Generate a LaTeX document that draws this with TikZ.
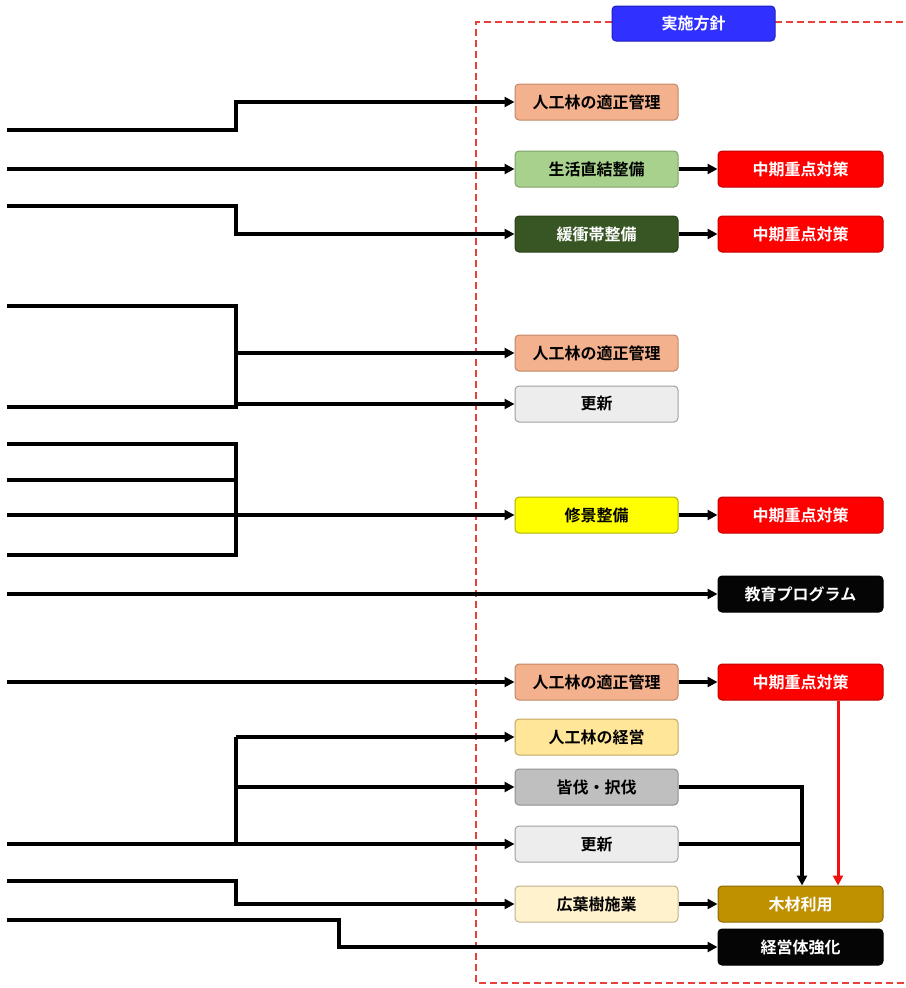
\documentclass[tikz,border=0pt]{standalone}
\usepackage{fontspec}
\newfontfamily\cjk{Noto Sans CJK JP}[BoldFont={Noto Sans CJK JP Bold}]
\usetikzlibrary{arrows.meta}
\definecolor{hdrblue}{HTML}{3030FF}
\definecolor{hdrblueB}{HTML}{2020C0}
\definecolor{salmon}{HTML}{F4B18E}
\definecolor{salmonB}{HTML}{C08868}
\definecolor{lgreen}{HTML}{A9D18E}
\definecolor{lgreenB}{HTML}{80A068}
\definecolor{dgreen}{HTML}{375623}
\definecolor{dgreenB}{HTML}{2A4018}
\definecolor{redbox}{HTML}{FF0000}
\definecolor{redboxB}{HTML}{C00000}
\definecolor{lgray}{HTML}{EDEDED}
\definecolor{lgrayB}{HTML}{A0A0A0}
\definecolor{mgray}{HTML}{BFBFBF}
\definecolor{mgrayB}{HTML}{909090}
\definecolor{ybox}{HTML}{FFFF00}
\definecolor{yboxB}{HTML}{B0B000}
\definecolor{lyellow}{HTML}{FFE699}
\definecolor{lyellowB}{HTML}{C0A860}
\definecolor{cream}{HTML}{FFF2CC}
\definecolor{creamB}{HTML}{C0B090}
\definecolor{gold}{HTML}{BF9000}
\definecolor{goldB}{HTML}{8C6A00}
\definecolor{blackbox}{HTML}{050505}
\definecolor{dashred}{HTML}{E8413C}
\definecolor{arrred}{HTML}{F01010}
\begin{document}
\begin{tikzpicture}[x=1pt,y=-1pt,
  box/.style={draw, line width=1pt, rounded corners=4pt, minimum height=36pt, inner sep=0pt,
     font=\cjk\bfseries\fontsize{16}{16}\selectfont},
  lbox/.style={box, minimum width=163pt},
  rbox/.style={box, minimum width=165pt, text=white},
  conn/.style={line width=3.2pt, black, -{Triangle[length=10pt,width=10pt]}},
  plain/.style={line width=3.2pt, black},
  redconn/.style={line width=3pt, arrred, -{Triangle[length=10pt,width=10pt]}},
  frame/.style={line width=1.8pt, dashred, dash pattern=on 7pt off 4pt}
]
\useasboundingbox (0,0) rectangle (905,988);
% dashed frame
\draw[frame] (612,22) -- (476,22) -- (476,983) -- (905,983);
\draw[frame] (775,22) -- (905,22);
% header
\node[box, minimum width=163pt, minimum height=35pt, fill=hdrblue, draw=hdrblueB, text=white] (hdr) at (693.5,23.5) {実施方針};
% left column boxes
\node[lbox, fill=salmon, draw=salmonB] (b1) at (596.5,102) {人工林の適正管理};
\node[lbox, fill=lgreen, draw=lgreenB] (b2) at (596.5,169) {生活直結整備};
\node[lbox, fill=dgreen, draw=dgreenB, text=white] (b3) at (596.5,234) {緩衝帯整備};
\node[lbox, fill=salmon, draw=salmonB] (b4) at (596.5,353) {人工林の適正管理};
\node[lbox, fill=lgray, draw=lgrayB] (b5) at (596.5,404) {更新};
\node[lbox, fill=ybox, draw=yboxB] (b6) at (596.5,515) {修景整備};
\node[lbox, fill=salmon, draw=salmonB] (b8) at (596.5,682) {人工林の適正管理};
\node[lbox, fill=lyellow, draw=lyellowB] (b9) at (596.5,737) {人工林の経営};
\node[lbox, fill=mgray, draw=mgrayB] (b10) at (596.5,787) {皆伐・択伐};
\node[lbox, fill=lgray, draw=lgrayB] (b11) at (596.5,844) {更新};
\node[lbox, fill=cream, draw=creamB] (b12) at (596.5,904) {広葉樹施業};
% right column boxes
\node[rbox, fill=redbox, draw=redboxB] (r2) at (800.5,169) {中期重点対策};
\node[rbox, fill=redbox, draw=redboxB] (r3) at (800.5,234) {中期重点対策};
\node[rbox, fill=redbox, draw=redboxB] (r6) at (800.5,515) {中期重点対策};
\node[rbox, fill=blackbox, draw=black] (r7) at (800.5,594) {教育プログラム};
\node[rbox, fill=redbox, draw=redboxB] (r8) at (800.5,682) {中期重点対策};
\node[rbox, fill=gold, draw=goldB] (wood) at (800.5,904) {木材利用};
\node[rbox, fill=blackbox, draw=black] (r13) at (800.5,947) {経営体強化};
% left start points
\coordinate (s1) at (7,130);
\coordinate (s2) at (7,169);
\coordinate (s3) at (7,206);
\coordinate (s4a) at (7,306);
\coordinate (s4b) at (7,407);
\coordinate (s6a) at (7,444);
\coordinate (s6b) at (7,480);
\coordinate (s6c) at (7,515);
\coordinate (s6d) at (7,555);
\coordinate (s7) at (7,594);
\coordinate (s8) at (7,682);
\coordinate (s9) at (7,844);
\coordinate (s12) at (7,881);
\coordinate (s13) at (7,920);
% junction points
\coordinate (j4) at (236,353);
\coordinate (j5) at (236,404);
\coordinate (j6) at (236,515);
\coordinate (j9) at (236,737);
\coordinate (j10) at (236,787);
\coordinate (j11) at (236,844);
\coordinate (wtop) at ([xshift=1.5pt]wood.north);
\coordinate (merge) at (wtop |- b11.east);
% connectors left
\draw[conn] (s1) -- (236,130) |- (b1);
\draw[conn] (s2) -- (b2);
\draw[conn] (s3) -- (236,206) |- (b3);
\draw[plain] (s4a) -- (236,306) -- (236,407) -- (s4b);
\draw[conn] (j4) -- (b4);
\draw[conn] (j5) -- (b5);
\draw[plain] (s6a) -- (236,444) -- (236,555) -- (s6d);
\draw[plain] (s6b) -- (236,480);
\draw[plain] (s6c) -- (j6);
\draw[conn] (j6) -- (b6);
\draw[conn] (s7) -- (r7);
\draw[conn] (s8) -- (b8);
\draw[plain] (s9) -- (j11) -- (j9);
\draw[conn] (j9) -- (b9);
\draw[conn] (j10) -- (b10);
\draw[conn] (j11) -- (b11);
\draw[conn] (s12) -- (236,881) |- (b12);
\draw[conn] (s13) -- (339,920) |- (r13);
% connectors right
\draw[conn] (b2) -- (r2);
\draw[conn] (b3) -- (r3);
\draw[conn] (b6) -- (r6);
\draw[conn] (b8) -- (r8);
\draw[conn] (b12) -- (wood);
\draw[conn] (b10.east) -| (wtop);
\draw[plain] (b11.east) -- (merge);
\draw[redconn] ([xshift=37.5pt]r8.south) -- ([xshift=37.5pt]wood.north);
\end{tikzpicture}
\end{document}
